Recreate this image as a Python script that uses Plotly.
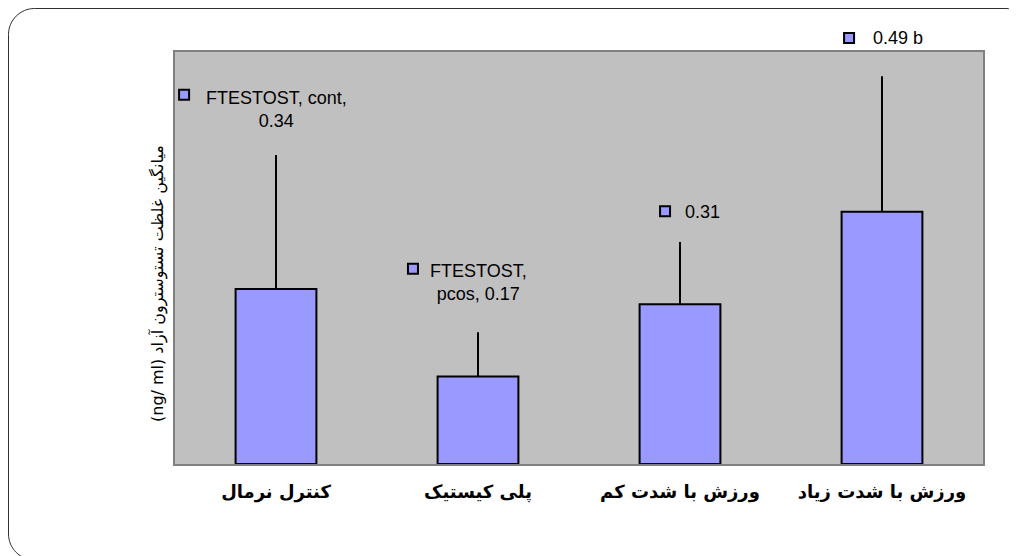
import plotly.graph_objects as go

categories = ["کنترل نرمال", "پلی کیستیک", "ورزش با شدت کم", "ورزش با شدت زیاد"]
means = [0.34, 0.17, 0.31, 0.49]
errors = [0.26, 0.086, 0.121, 0.263]
label_texts = ["FTESTOST, cont,<br>0.34", "FTESTOST,<br>pcos, 0.17", "0.31", "0.49 b"]
y_title = "(ng/ ml) میانگین غلظت تستوسترون آزاد"

# label placement (offset from bar position, value-axis height)
label_dx = [0.0, 0.0, 0.109, 0.08]
label_y = [0.689, 0.352, 0.489, 0.827]
key_dx = [-0.455, -0.322, -0.074, -0.163]
key_y = [0.717, 0.379, 0.491, 0.827]

Y_MAX = 0.8
W, H = 1017, 556
OFF = 8  # page body margin
L, R, T, B = 175, 983, 52, 464  # plot area in screen pixels

xs = list(range(len(categories)))

fig = go.Figure()
fig.add_trace(go.Bar(
    x=xs, y=means, width=0.4,
    marker=dict(color="#9999FF", line=dict(color="black", width=2)),
    error_y=dict(type="data", symmetric=False, array=errors,
                 arrayminus=[0] * len(errors), width=0, thickness=2, color="black"),
    showlegend=False, hoverinfo="skip",
))

for x, d, yv in zip(xs, key_dx, key_y):
    fig.add_shape(type="rect", xref="x", yref="paper",
                  xsizemode="pixel", ysizemode="pixel",
                  xanchor=x + d, yanchor=yv / Y_MAX,
                  x0=-5, x1=5, y0=-5, y1=5,
                  fillcolor="#9999FF", line=dict(color="black", width=2))

for x, d, yv, t in zip(xs, label_dx, label_y, label_texts):
    fig.add_annotation(x=x + d, y=yv / Y_MAX, xref="x", yref="paper", text=t,
                       showarrow=False,
                       font=dict(family="Liberation Sans, Arial", size=18, color="black"),
                       xanchor="center", yanchor="middle", align="center")

def px(xp):
    return (xp - L) / (R - L)

def py(yp):
    return (B - yp) / (B - T)

# rounded frame
fl, ft, fr, fb, r = 8.5, 8.5, 1032, 560, 26
k = 0.45
path = (
    f"M {px(fl)},{py(ft + r)} "
    f"C {px(fl)},{py(ft + r * k)} {px(fl + r * k)},{py(ft)} {px(fl + r)},{py(ft)} "
    f"L {px(fr - r)},{py(ft)} "
    f"C {px(fr - r * k)},{py(ft)} {px(fr)},{py(ft + r * k)} {px(fr)},{py(ft + r)} "
    f"L {px(fr)},{py(fb - r)} "
    f"C {px(fr)},{py(fb - r * k)} {px(fr - r * k)},{py(fb)} {px(fr - r)},{py(fb)} "
    f"L {px(fl + r)},{py(fb)} "
    f"C {px(fl + r * k)},{py(fb)} {px(fl)},{py(fb - r * k)} {px(fl)},{py(fb - r)} Z"
)
fig.add_shape(type="path", xref="paper", yref="paper", path=path,
              line=dict(color="#303030", width=1), layer="below")

fig.add_annotation(xref="paper", yref="paper", x=px(158), y=py(284), text=y_title,
                   textangle=-90, showarrow=False, xanchor="center", yanchor="middle",
                   font=dict(family="DejaVu Sans", size=16, color="black"))

fig.update_layout(
    width=W, height=H,
    margin=dict(l=L - OFF, r=W - R + OFF, t=T - OFF, b=H - B + OFF, autoexpand=False),
    paper_bgcolor="white", plot_bgcolor="#C0C0C0",
    bargap=0.6,
)
fig.update_xaxes(
    range=[-0.5, 3.5], tickvals=xs, ticktext=[f"<b>{c}</b>" for c in categories],
    tickfont=dict(family="DejaVu Sans", size=18, color="black"),
    showgrid=False, zeroline=False, ticks="", ticklabelstandoff=10,
    showline=True, mirror=True, linecolor="#808080", linewidth=2,
)
fig.update_yaxes(
    range=[0, Y_MAX], showticklabels=False, showgrid=False, zeroline=False, ticks="",
    showline=True, mirror=True, linecolor="#808080", linewidth=2,
)

fig.write_html("out.html")
